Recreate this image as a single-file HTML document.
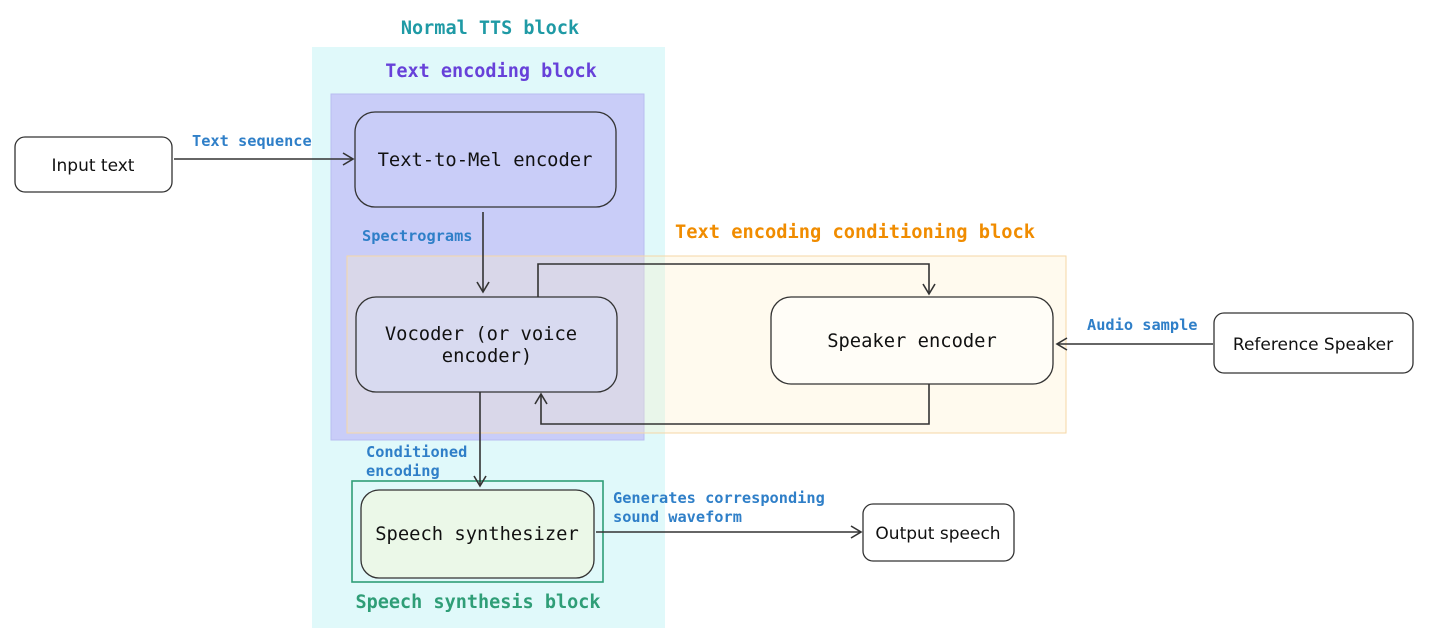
<!DOCTYPE html>
<html><head><meta charset="utf-8"><style>
html,body{margin:0;padding:0;background:#fff}
svg{display:block}
.m{font-family:"DejaVu Sans Mono","Liberation Mono",monospace}
.h{font-family:"DejaVu Sans","Liberation Sans",sans-serif}
</style></head><body>
<svg width="1429" height="643" viewBox="0 0 1429 643" xmlns="http://www.w3.org/2000/svg">
<defs><marker id="a" markerWidth="14" markerHeight="14" refX="11" refY="7" orient="auto" markerUnits="userSpaceOnUse"><path d="M1,1 L11,7 L1,13" fill="none" stroke="#333" stroke-width="1.6"/></marker></defs>
<rect x="312" y="47" width="353" height="581" fill="#e0f9fa"/>
<rect x="331" y="94" width="313" height="346" fill="#c9cdf8" stroke="#b9bdf0"/>
<rect x="347" y="256" width="719" height="177" fill="rgba(255,238,200,0.3)" stroke="#f5d7a6"/>
<text x="490" y="34" class="m" font-size="18.5" font-weight="bold" fill="#1f9aa5" text-anchor="middle">Normal TTS block</text>
<text x="491" y="77" class="m" font-size="18.5" font-weight="bold" fill="#6741d9" text-anchor="middle">Text encoding block</text>
<text x="855" y="238" class="m" font-size="18.7" font-weight="bold" fill="#f08c00" text-anchor="middle">Text encoding conditioning block</text>
<text x="478" y="608" class="m" font-size="18.5" font-weight="bold" fill="#2f9e77" text-anchor="middle">Speech synthesis block</text>
<rect x="355" y="112" width="261" height="95" rx="20" fill="#c9cdf8" stroke="#333" stroke-width="1.3"/>
<text x="485" y="166" class="m" font-size="18.8" fill="#111" text-anchor="middle">Text-to-Mel encoder</text>
<rect x="356" y="297" width="261" height="95" rx="20" fill="#d8daf0" stroke="#333" stroke-width="1.3"/>
<text x="481" y="340" class="m" font-size="18.8" fill="#111" text-anchor="middle">Vocoder (or voice</text>
<text x="487" y="362" class="m" font-size="18.8" fill="#111" text-anchor="middle">encoder)</text>
<rect x="771" y="297" width="282" height="87" rx="20" fill="#fffdf7" stroke="#333" stroke-width="1.3"/>
<text x="912" y="347" class="m" font-size="18.8" fill="#111" text-anchor="middle">Speaker encoder</text>
<rect x="15" y="137" width="157" height="55" rx="10" fill="#fff" stroke="#333" stroke-width="1.3"/>
<text x="93" y="171" class="h" font-size="17" fill="#111" text-anchor="middle">Input text</text>
<rect x="1214" y="313" width="199" height="60" rx="10" fill="#fff" stroke="#333" stroke-width="1.3"/>
<text x="1313" y="350" class="h" font-size="17" fill="#111" text-anchor="middle">Reference Speaker</text>
<rect x="352" y="481" width="251" height="101" fill="none" stroke="#2f9e77" stroke-width="1.6"/>
<rect x="361" y="490" width="233" height="88" rx="18" fill="#ebf8e8" stroke="#333" stroke-width="1.3"/>
<text x="477" y="540" class="m" font-size="18.8" fill="#111" text-anchor="middle">Speech synthesizer</text>
<rect x="863" y="504" width="151" height="57" rx="10" fill="#fff" stroke="#333" stroke-width="1.3"/>
<text x="938" y="539" class="h" font-size="17" fill="#111" text-anchor="middle">Output speech</text>
<g fill="none" stroke="#333" stroke-width="1.6">
<path d="M174,159 H353" marker-end="url(#a)"/>
<path d="M483,212 V292" marker-end="url(#a)"/>
<path d="M538,297 V264 H929 V294" marker-end="url(#a)"/>
<path d="M929,384 V424 H541 V394" marker-end="url(#a)"/>
<path d="M480,392 V486" marker-end="url(#a)"/>
<path d="M596,532 H861" marker-end="url(#a)"/>
<path d="M1213,344 H1057" marker-end="url(#a)"/>
</g>
<g class="m" font-size="15.3" font-weight="bold" fill="#2f7fc8">
<text x="192" y="146">Text sequence</text>
<text x="362" y="241">Spectrograms</text>
<text x="1087" y="330">Audio sample</text>
<text x="366" y="457">Conditioned</text>
<text x="366" y="476">encoding</text>
<text x="613" y="503">Generates corresponding</text>
<text x="613" y="522">sound waveform</text>
</g>
</svg>
</body></html>
